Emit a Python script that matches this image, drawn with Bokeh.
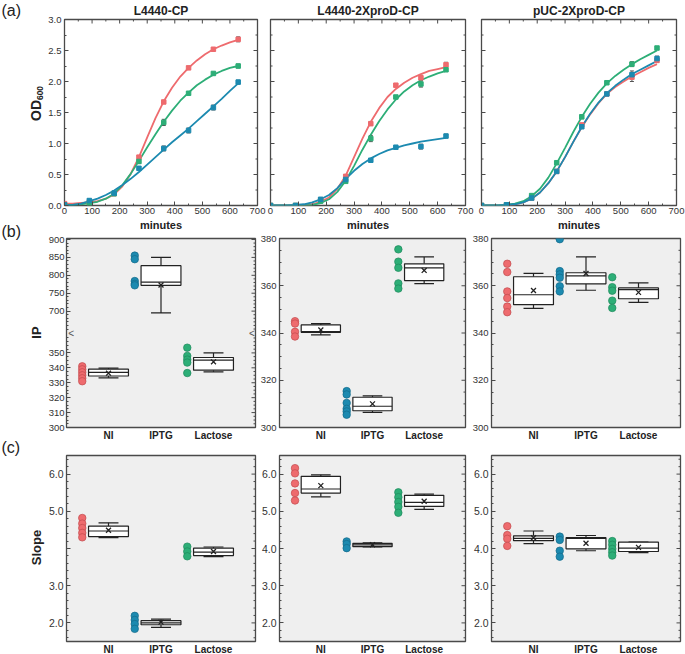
import numpy as np
from bokeh.plotting import figure
from bokeh.models import (Range1d, FixedTicker, SingleIntervalTicker, Label,
                          Whisker, TeeHead, ColumnDataSource, NumeralTickFormatter)
from bokeh.layouts import row, column
from bokeh.embed import file_html
from bokeh.resources import INLINE
from bokeh.core.properties import value

FONT = "Liberation Sans"
RED, GREEN, BLUE = "#EE6B6E", "#2DAE77", "#1C8AB0"
RED_E, GREEN_E, BLUE_E = "#C24A4E", "#1E8A5B", "#146A8A"
TXT = "#222222"
EDGE = "#4a4a4a"

# ---------------- data ----------------
titles = ["L4440-CP", "L4440-2XproD-CP", "pUC-2XproD-CP"]
conditions = ["NI", "IPTG", "Lactose"]

t_meas = [0, 90, 180, 270, 360, 450, 540, 630]
t_fit = [0, 30, 60, 90, 120, 150, 180, 210, 240, 270, 300, 330, 360, 390, 420, 450,
         480, 510, 540, 570, 600, 630]

# panel 1: L4440-CP
a1_red_meas = [0.03, 0.05, 0.19, 0.78, 1.67, 2.22, 2.52, 2.68]
a1_red_err = [0.01, 0.01, 0.01, 0.02, 0.02, 0.02, 0.02, 0.04]
a1_green_meas = [0.01, 0.04, 0.19, 0.71, 1.34, 1.81, 2.13, 2.25]
a1_green_err = [0.01, 0.01, 0.01, 0.03, 0.05, 0.02, 0.02, 0.03]
a1_blue_meas = [0.01, 0.08, 0.20, 0.60, 0.92, 1.21, 1.58, 1.99]
a1_blue_err = [0.01, 0.02, 0.02, 0.02, 0.04, 0.04, 0.04, 0.03]
a1_red_fit = [0.03, 0.03, 0.04, 0.05, 0.07, 0.11, 0.18, 0.31, 0.51, 0.78, 1.10, 1.41, 1.68,
              1.90, 2.08, 2.22, 2.34, 2.44, 2.52, 2.58, 2.63, 2.67]
a1_green_fit = [0.01, 0.01, 0.02, 0.04, 0.06, 0.11, 0.19, 0.33, 0.51, 0.72, 0.94, 1.15, 1.35,
                1.53, 1.69, 1.82, 1.94, 2.03, 2.11, 2.17, 2.22, 2.25]
a1_blue_fit = [0.00, 0.01, 0.03, 0.07, 0.11, 0.17, 0.24, 0.33, 0.43, 0.54, 0.66, 0.78, 0.90,
               1.02, 1.13, 1.24, 1.36, 1.48, 1.60, 1.72, 1.85, 1.97]

# panel 2: L4440-2XproD-CP
a2_red_meas = [0.00, 0.00, 0.09, 0.47, 1.32, 1.94, 2.06, 2.27]
a2_red_err = [0.00, 0.00, 0.01, 0.02, 0.03, 0.02, 0.04, 0.04]
a2_green_meas = [0.00, 0.00, 0.07, 0.39, 1.08, 1.75, 1.96, 2.19]
a2_green_err = [0.00, 0.00, 0.01, 0.02, 0.05, 0.02, 0.05, 0.03]
a2_blue_meas = [0.00, 0.00, 0.10, 0.42, 0.73, 0.94, 0.95, 1.12]
a2_blue_err = [0.00, 0.00, 0.01, 0.01, 0.02, 0.01, 0.04, 0.03]
a2_red_fit = [0.00, 0.00, 0.00, 0.00, 0.01, 0.02, 0.06, 0.13, 0.27, 0.48, 0.78, 1.08, 1.35,
              1.57, 1.75, 1.88, 1.98, 2.06, 2.12, 2.17, 2.20, 2.23]
a2_green_fit = [0.00, 0.00, 0.00, 0.00, 0.00, 0.01, 0.04, 0.10, 0.22, 0.40, 0.64, 0.90, 1.14,
                1.36, 1.55, 1.71, 1.84, 1.94, 2.02, 2.08, 2.13, 2.17]
a2_blue_fit = [0.00, 0.00, 0.00, 0.01, 0.02, 0.05, 0.10, 0.17, 0.28, 0.43, 0.56, 0.67, 0.76,
               0.83, 0.89, 0.93, 0.97, 1.00, 1.03, 1.05, 1.07, 1.09]

# panel 3: pUC-2XproD-CP
a3_red_meas = [0.00, 0.01, 0.12, 0.55, 1.30, 1.80, 2.07, 2.34]
a3_red_err = [0.00, 0.00, 0.01, 0.02, 0.02, 0.02, 0.07, 0.03]
a3_green_meas = [0.00, 0.01, 0.16, 0.69, 1.43, 1.98, 2.28, 2.54]
a3_green_err = [0.00, 0.00, 0.01, 0.02, 0.03, 0.02, 0.04, 0.02]
a3_blue_meas = [0.00, 0.01, 0.12, 0.55, 1.27, 1.80, 2.11, 2.37]
a3_blue_err = [0.00, 0.00, 0.01, 0.02, 0.02, 0.02, 0.06, 0.04]
a3_red_fit = [0.00, 0.00, 0.00, 0.01, 0.02, 0.05, 0.11, 0.21, 0.36, 0.55, 0.78, 1.03, 1.26,
              1.47, 1.65, 1.80, 1.91, 2.00, 2.08, 2.15, 2.22, 2.28]
a3_green_fit = [0.00, 0.00, 0.00, 0.01, 0.03, 0.07, 0.15, 0.27, 0.45, 0.68, 0.93, 1.19, 1.43,
                1.64, 1.82, 1.97, 2.09, 2.19, 2.28, 2.36, 2.43, 2.50]
a3_blue_fit = [0.00, 0.00, 0.00, 0.01, 0.02, 0.05, 0.11, 0.21, 0.36, 0.55, 0.78, 1.03, 1.27,
               1.48, 1.66, 1.81, 1.93, 2.03, 2.12, 2.19, 2.26, 2.33]

# (b) IP : points per condition and box stats [whisker_lo, q1, median, q3, whisker_hi, mean]
ip1_points = [[341, 339, 337, 335, 333, 331], [855, 845, 784, 776, 772],
              [353.5, 348, 345.5, 343.5, 336.5]]
ip1_box = [[333.3, 334.5, 336.9, 339.1, 339.8, 336.4], [695, 772, 781, 827, 850, 773],
           [337.3, 338.4, 345.1, 346.9, 350, 344]]
ip2_points = [[345, 344, 340.5, 338.5], [315.4, 314, 310.4, 307.9, 306.8, 305.4],
              [375.4, 370.2, 367.6, 361, 358.8]]
ip2_box = [[339.2, 340.3, 340.6, 343.4, 344, 341.3], [306.4, 307.1, 309, 312.8, 313.4, 310],
           [360.9, 362.2, 367.6, 369.3, 372.2, 366.5]]
ip3_points = [[369.3, 365.8, 357.6, 354.8, 351.2, 348.8], [379.7, 366.2, 364.8, 363.4, 359.8, 357.6],
              [363.6, 359.4, 357.9, 353.7, 350.6]]
ip3_box = [[350.4, 352, 356.2, 363.8, 365.2, 358], [358.1, 360.8, 364.2, 365.5, 372.2, 365.2],
           [353, 354.5, 358.4, 359.1, 361.2, 357.2]]

# (c) Slope
sl1_points = [[4.82, 4.67, 4.55, 4.42, 4.30], [2.19, 2.08, 1.97, 1.84], [4.05, 3.92, 3.79]]
sl1_box = [[4.29, 4.32, 4.47, 4.60, 4.69, 4.49], [1.88, 1.95, 2.00, 2.06, 2.10, 2.02],
           [3.78, 3.81, 3.90, 4.01, 4.04, 3.92]]
sl2_points = [[6.16, 6.02, 5.75, 5.49, 5.29], [4.19, 4.12, 4.01], [5.51, 5.38, 5.25, 5.12, 4.96]]
sl2_box = [[5.39, 5.49, 5.60, 5.94, 5.98, 5.69], [4.04, 4.05, 4.10, 4.14, 4.15, 4.10],
           [5.05, 5.13, 5.24, 5.43, 5.46, 5.27]]
sl3_points = [[4.60, 4.36, 4.26, 4.07], [4.32, 4.23, 3.94, 3.78], [4.20, 4.10, 3.99, 3.90, 3.81]]
sl3_box = [[4.13, 4.21, 4.27, 4.34, 4.47, 4.29], [3.94, 3.99, 4.27, 4.29, 4.35, 4.14],
           [3.89, 3.92, 4.01, 4.17, 4.17, 4.03]]

# ---------------- helpers ----------------
def make_fig(xr, yr, W, H, bl, br, bt, bb, bg):
    p = figure(x_range=Range1d(*xr), y_range=Range1d(*yr), frame_width=W, frame_height=H,
               min_border_left=bl, min_border_right=br, min_border_top=bt, min_border_bottom=bb,
               output_backend="svg", toolbar_location=None, background_fill_color=bg,
               border_fill_color="white")
    p.xgrid.visible = False
    p.ygrid.visible = False
    p.outline_line_color = EDGE
    p.outline_line_width = 1.3
    return p


def style_axis(ax, size, bold=False, ticks=True, standoff=2):
    ax.axis_line_color = None
    ax.major_tick_in = 4 if ticks else 0
    ax.major_tick_out = 0
    ax.minor_tick_in = 2 if ticks else 0
    ax.minor_tick_out = 0
    ax.major_tick_line_color = EDGE
    ax.minor_tick_line_color = EDGE
    ax.major_label_text_font = FONT
    ax.major_label_text_font_size = f"{size}px"
    ax.major_label_text_font_style = "bold" if bold else "normal"
    ax.major_label_standoff = standoff
    ax.major_label_text_color = TXT if bold else "#333333"


def edge_ticks(p, side, pos, majors, minors):
    """Mirror tick marks drawn inside the frame (half of a dash centred on the edge)."""
    for vals, size in ((majors, 8), (minors, 4)):
        vals = list(vals)
        if not vals:
            continue
        if side in ("left", "right"):
            p.scatter([pos] * len(vals), vals, marker="dash", size=size, line_color=EDGE,
                      line_width=1)
        else:
            p.scatter(vals, [pos] * len(vals), marker="dash", size=size, angle=np.pi / 2,
                      line_color=EDGE, line_width=1)


# ---------------- row (a) ----------------
A_H = 186
a_geo = [(193, 17, 9), (195, 4, 9), (195, 7, 11)]
a_series = [
    [(RED, a1_red_fit, a1_red_meas, a1_red_err), (GREEN, a1_green_fit, a1_green_meas, a1_green_err),
     (BLUE, a1_blue_fit, a1_blue_meas, a1_blue_err)],
    [(RED, a2_red_fit, a2_red_meas, a2_red_err), (GREEN, a2_green_fit, a2_green_meas, a2_green_err),
     (BLUE, a2_blue_fit, a2_blue_meas, a2_blue_err)],
    [(RED, a3_red_fit, a3_red_meas, a3_red_err), (GREEN, a3_green_fit, a3_green_meas, a3_green_err),
     (BLUE, a3_blue_fit, a3_blue_meas, a3_blue_err)],
]
x_major = np.arange(0, 701, 100)
x_minor = np.arange(50, 700, 100)
od_major = np.arange(0, 3.01, 0.5)
od_minor = np.arange(0.25, 3.0, 0.5)
row_a = []
for i in range(3):
    W, bl, br = a_geo[i]
    xr, yr = (0, 700), (0, 3)
    p = make_fig(xr, yr, W, A_H, bl, br, 19, 29, "white")
    p.title.text = titles[i]
    p.title.align = "center"
    p.title.text_font = FONT
    p.title.text_font_size = "12px"
    p.title.text_font_style = "bold"
    p.title.text_color = TXT
    p.title.standoff = 3
    p.xaxis.ticker = SingleIntervalTicker(interval=100, num_minor_ticks=2)
    style_axis(p.xaxis[0], 9.5)
    p.xaxis.axis_label = "minutes"
    p.xaxis.axis_label_text_font = FONT
    p.xaxis.axis_label_text_font_size = "11px"
    p.xaxis.axis_label_text_font_style = "bold"
    p.xaxis.axis_label_text_color = TXT
    p.xaxis.axis_label_standoff = 2
    if i == 0:
        p.yaxis.ticker = SingleIntervalTicker(interval=0.5, num_minor_ticks=2)
        p.yaxis.formatter = NumeralTickFormatter(format="0.0")
        style_axis(p.yaxis[0], 9.5, standoff=3)
    else:
        p.yaxis.visible = False
        edge_ticks(p, "left", 0, od_major, od_minor)
    edge_ticks(p, "right", 700, od_major, od_minor)
    edge_ticks(p, "top", 3, x_major, x_minor)
    for color, fit, meas, err in a_series[i]:
        p.line(t_fit, fit, line_color=color, line_width=1.8)
    for color, fit, meas, err in a_series[i]:
        m = np.array(meas)
        e = np.array(err)
        src = ColumnDataSource(dict(t=t_meas, y=m, lo=m - e, hi=m + e))
        p.add_layout(Whisker(source=src, base="t", upper="hi", lower="lo", line_color="#555555",
                             line_width=1,
                             upper_head=TeeHead(size=4, line_color="#555555", line_width=1),
                             lower_head=TeeHead(size=4, line_color="#555555", line_width=1)))
        p.scatter("t", "y", source=src, marker="square", size=4.5, fill_color=color,
                  line_color=color)
    row_a.append(p)

# ---------------- rows (b) and (c) ----------------
XR = (0.2, 3.8)
XPOS = [1, 2, 3]
BOXW, CAP, DOT = 0.38, 0.19, 0.5
bc_geo = [(189, 18, 2), (186, 22, 4), (189, 22, 8)]
cols = [RED, BLUE, GREEN]
edges = [RED_E, BLUE_E, GREEN_E]


def brk(v):
    v = np.asarray(v, dtype=float)
    return np.where(v < 500, (v - 300) * 1.5, 117 + (v - 700) * 0.36)


def ident(v):
    return np.asarray(v, dtype=float)


def draw_boxes(p, box, pts, tf):
    for k in range(3):
        xc = XPOS[k]
        wl, q1, med, q3, wh, mean = tf(box[k])
        p.segment(x0=[xc, xc], y0=[q3, q1], x1=[xc, xc], y1=[wh, wl], line_color="#222222",
                  line_width=1.2)
        p.segment(x0=[xc - CAP, xc - CAP], y0=[wh, wl], x1=[xc + CAP, xc + CAP], y1=[wh, wl],
                  line_color="#222222", line_width=1.2)
        p.quad(left=[xc - BOXW], right=[xc + BOXW], bottom=[q1], top=[q3], fill_color="white",
               line_color="#222222", line_width=1.2)
        p.segment(x0=[xc - BOXW], y0=[med], x1=[xc + BOXW], y1=[med], line_color="#222222",
                  line_width=1.2)
        p.scatter([xc], [mean], marker="x", size=7, line_color="#222222", line_width=1.3)
        yy = tf(pts[k])
        p.scatter([xc - DOT] * len(yy), yy, marker="circle", size=7.5, fill_color=cols[k],
                  line_color=edges[k], line_width=0.7)


def cat_axis(p, size):
    p.xaxis.ticker = FixedTicker(ticks=XPOS)
    p.xaxis.major_label_overrides = {1: "NI", 2: "IPTG", 3: "Lactose"}
    style_axis(p.xaxis[0], size, bold=True, ticks=False)


# row b
B_H = 189
ip_data = [(ip1_points, ip1_box), (ip2_points, ip2_box), (ip3_points, ip3_box)]
b1_lab_low = [300, 310, 320, 330, 340, 350]
b1_lab_high = [700, 750, 800, 850, 900]
b1_minor_low = [302.5, 305, 307.5, 312.5, 315, 317.5, 322.5, 325, 327.5, 332.5, 335, 337.5,
                342.5, 345, 347.5, 352.5, 355, 357.5, 360]
b1_minor_high = [650, 660, 670, 680, 690, 710, 720, 730, 740, 760, 770, 780, 790, 810, 820,
                 830, 840, 860, 870, 880, 890]
ip_major = np.arange(300, 381, 20)
ip_minor = [v for v in np.arange(300, 381, 5) if v % 20 != 0]
row_b = []
for i in range(3):
    W, bl, br = bc_geo[i]
    if i == 0:
        yr = (0, 190)
        tf = brk
        majors = [float(v) for v in brk(b1_lab_low + b1_lab_high)]
        minors = [float(v) for v in brk(b1_minor_low + b1_minor_high)]
        labels = {m: str(v) for m, v in zip(majors, b1_lab_low + b1_lab_high)}
    else:
        yr = (300, 380)
        tf = ident
        majors, minors = list(ip_major), ip_minor
    p = make_fig(XR, yr, W, B_H, bl, br, 4, 14, "#efefef")
    cat_axis(p, 10)
    if i == 0:
        p.yaxis.ticker = FixedTicker(ticks=majors, minor_ticks=minors)
        p.yaxis.major_label_overrides = labels
        style_axis(p.yaxis[0], 9.5, standoff=2)
    else:
        p.yaxis.ticker = SingleIntervalTicker(interval=20, num_minor_ticks=4)
        style_axis(p.yaxis[0], 9.5, standoff=3)
    edge_ticks(p, "right", XR[1], majors, minors)
    pts, box = ip_data[i]
    draw_boxes(p, box, pts, tf)
    if i == 0:
        p.add_layout(Label(x=0.29, y=95, text="<", text_font=FONT, text_font_size="10px",
                           text_align="center", text_baseline="middle", text_color="#555555"))
        p.add_layout(Label(x=3.73, y=95, text="<", text_font=FONT, text_font_size="10px",
                           text_align="center", text_baseline="middle", text_color="#555555"))
    row_b.append(p)

# row c
C_H = 186
sl_data = [(sl1_points, sl1_box), (sl2_points, sl2_box), (sl3_points, sl3_box)]
sl_major = np.arange(2, 6.01, 1.0)
sl_minor = [v for v in np.arange(1.6, 6.45, 0.2) if abs(v - round(v)) > 0.05]
row_c = []
for i in range(3):
    W, bl, br = bc_geo[i]
    yr = (1.5, 6.5)
    p = make_fig(XR, yr, W, C_H, bl, br, 12, 14, "#efefef")
    cat_axis(p, 10)
    p.yaxis.ticker = SingleIntervalTicker(interval=1, num_minor_ticks=5)
    p.yaxis.formatter = NumeralTickFormatter(format="0.0")
    if i == 0:
        p.yaxis.major_label_overrides = {4: ""}
    style_axis(p.yaxis[0], 10.5, standoff=3)
    edge_ticks(p, "right", XR[1], sl_major, sl_minor)
    pts, box = sl_data[i]
    draw_boxes(p, box, pts, ident)
    row_c.append(p)

# ---------------- left strip with panel letters and y titles ----------------
STRIP_W, STRIP_H = 45, 654
strip = figure(x_range=Range1d(0, STRIP_W), y_range=Range1d(STRIP_H, 0), frame_width=STRIP_W,
               frame_height=STRIP_H, min_border=0, x_axis_type=None, y_axis_type=None,
               output_backend="svg", toolbar_location=None)
strip.outline_line_color = None
strip.xgrid.visible = False
strip.ygrid.visible = False
lab_text = ["(a)", "(b)", "(c)"]
lab_x = [1, 1, 1]
lab_y = [10, 231, 447]
strip.text(x=lab_x, y=lab_y, text=lab_text, text_font=value(FONT), text_font_size="16px",
           text_align="left", text_baseline="middle", text_color=TXT)
strip.text(x=[35], y=[110], text=["OD"], text_font=value(FONT), text_font_size="14px",
           text_font_style="bold", angle=np.pi / 2, text_align="center",
           text_baseline="middle", text_color=TXT)
strip.text(x=[39], y=[92.5], text=["600"], text_font=value(FONT), text_font_size="8.5px",
           text_font_style="bold", angle=np.pi / 2, text_align="center",
           text_baseline="middle", text_color=TXT)
ytitle_text = ["IP", "Slope"]
ytitle_x = [36, 36]
ytitle_y = [332, 547]
strip.text(x=ytitle_x, y=ytitle_y, text=ytitle_text, text_font=value(FONT),
           text_font_size="13px", text_font_style="bold", angle=np.pi / 2,
           text_align="center", text_baseline="middle", text_color=TXT)

layout = row(strip, column(row(*row_a), row(*row_b), row(*row_c)))
open("out.html", "w").write(file_html(layout, INLINE))
